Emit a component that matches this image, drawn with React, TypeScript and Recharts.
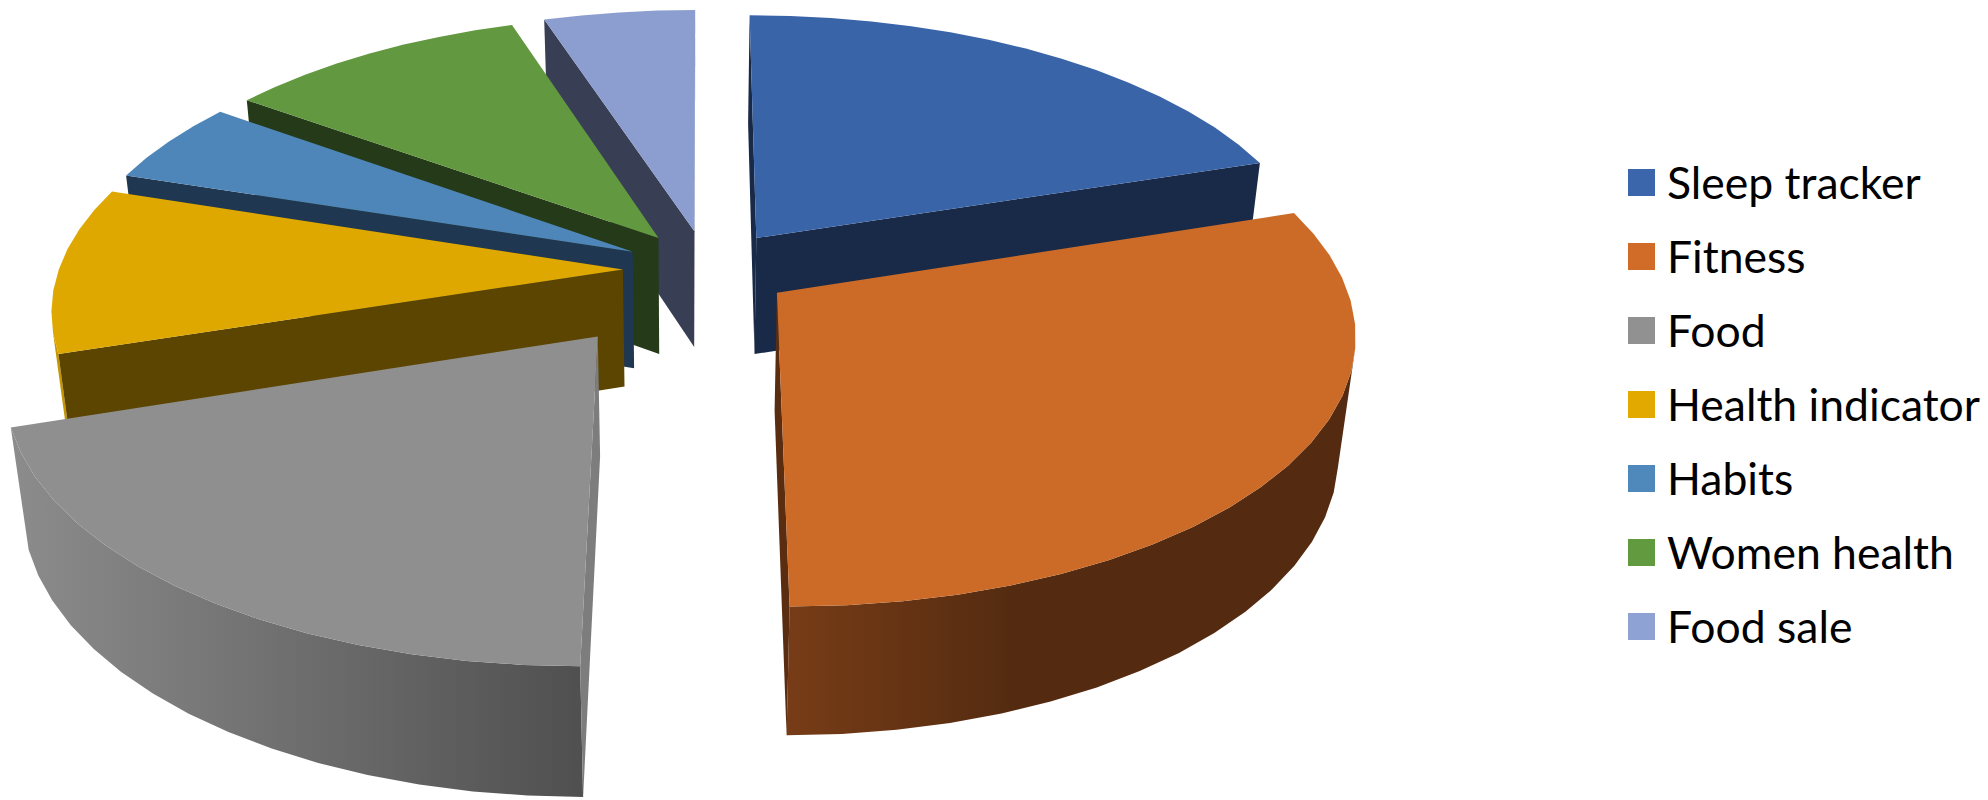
import React from 'react'
import { PieChart, Pie, Legend } from 'recharts'

const CATEGORIES = ['Sleep tracker', 'Fitness', 'Food', 'Health indicator', 'Habits', 'Women health', 'Food sale']
const VALUES = [20, 30, 20, 10, 5, 10, 5]

// back-to-front paint order, so nearer slices overlap the ones behind them
const PAINT_ORDER = ['Food sale', 'Sleep tracker', 'Women health', 'Habits', 'Health indicator', 'Fitness', 'Food']

const TOP_COLORS = ['#3A64A8', '#CC6B27', '#8F8F8F', '#DFA800', '#4E86B9', '#62983F', '#8C9ECF']
const LEGEND_COLORS = ['#3C66AC', '#D06C28', '#919191', '#E2A900', '#4F89BC', '#629A3F', '#8FA2D4']
const WALL_COLORS = ['#182A47', '#5A2D10', '#7D7D7D', '#5C4500', '#1F3750', '#253A18', '#383F55']
const RIM_STOPS = [
  ['#182A47', '#182A47'],
  ['#773C17', '#542B10'],
  ['#8C8C8C', '#505050'],
  ['#C69500', '#C69500'],
  ['#1F3750', '#1F3750'],
  ['#253A18', '#253A18'],
  ['#383F55', '#383F55'],
]

// how far each slice is pulled out of the pie, in radii
const DEFAULT_EXPLODE = { side: 0.15, depth: 0.15 }
const FOOD_EXPLODE = { side: 0.32, depth: 0.305 }

const slices = CATEGORIES.map((name, i) => ({ name, value: VALUES[i], index: i }))

// perspective camera: ground lines running front to back meet at (VANISH_X, VANISH_Y)
const VANISH_X = 701
const VANISH_Y = -1592.5
const DEPTH_NEAR = 5.371e-4
const DEPTH_RANGE = 0.757e-4
const WIDTH_SCALE = 0.303
const WIDTH_SHIFT = 0.0035
// the walls lean toward a second vanishing point far below the pie
const DROP_X = 685
const DROP_DIST = 4615

type Pt = { x: number; y: number }

const project = (nx: number, ny: number): Pt => {
  const u = 1 / (DEPTH_NEAR + DEPTH_RANGE * ny)
  return { x: VANISH_X + (WIDTH_SHIFT + WIDTH_SCALE * nx) * u, y: u + VANISH_Y }
}

const drop = (p: Pt): Pt => {
  const d = 116 + 0.0342 * (p.y - 236)
  return { x: p.x - ((p.x - DROP_X) * d) / DROP_DIST, y: p.y + d }
}

const toPath = (pts: Pt[]) =>
  pts.map((p, i) => `${i ? 'L' : 'M'}${p.x.toFixed(1)} ${p.y.toFixed(1)}`).join(' ') + ' Z'

const signedArea = (pts: Pt[]) =>
  pts.reduce((sum, p, i) => {
    const q = pts[(i + 1) % pts.length]
    return sum + p.x * q.y - q.x * p.y
  }, 0)

const Slice3D = ({ startAngle, endAngle, midAngle, name }: any) => {
  const index = CATEGORIES.indexOf(name)
  const explode = name === 'Food' ? FOOD_EXPLODE : DEFAULT_EXPLODE
  const rad = (a: number) => ((90 - a) * Math.PI) / 180
  const ox = explode.side * Math.sin(rad(midAngle))
  const oy = explode.depth * Math.cos(rad(midAngle))
  const onGround = (a: number, r: number) =>
    project(ox + r * Math.sin(rad(a)), oy + r * Math.cos(rad(a)))

  const steps = Math.max(2, Math.ceil((startAngle - endAngle) / 5))
  const rim = Array.from({ length: steps + 1 }, (_, i) =>
    onGround(startAngle + ((endAngle - startAngle) * i) / steps, 1),
  )
  const rimBottom = rim.map(drop)
  const apex = onGround(startAngle, 0)
  const apexBottom = drop(apex)

  const startWall = [apex, rim[0], rimBottom[0], apexBottom]
  const endWall = [apex, rim[steps], rimBottom[steps], apexBottom]

  // only the facets turned toward the viewer, joined into one band so no seams show
  const frontTop: Pt[] = []
  const frontBottom: Pt[] = []
  rim.slice(1).forEach((p, i) => {
    if (signedArea([rim[i], p, rimBottom[i + 1], rimBottom[i]]) < 0) {
      if (!frontTop.length) {
        frontTop.push(rim[i])
        frontBottom.push(rimBottom[i])
      }
      frontTop.push(p)
      frontBottom.push(rimBottom[i + 1])
    }
  })

  const xs = rim.map(p => p.x)
  const gradientId = `rim-${index}`

  return (
    <g>
      <defs>
        <linearGradient
          id={gradientId} gradientUnits="userSpaceOnUse"
          x1={Math.min(...xs)} x2={Math.max(...xs)} y1={0} y2={0}
        >
          <stop offset="0%" stopColor={RIM_STOPS[index][0]} />
          <stop offset={name === 'Fitness' ? '40%' : '100%'} stopColor={RIM_STOPS[index][1]} />
        </linearGradient>
      </defs>
      {frontTop.length > 0 && (
        <path d={toPath([...frontTop, ...frontBottom.reverse()])} fill={`url(#${gradientId})`} />
      )}
      {signedArea(startWall) < 0 && <path d={toPath(startWall)} fill={WALL_COLORS[index]} />}
      {signedArea(endWall) > 0 && <path d={toPath(endWall)} fill={WALL_COLORS[index]} />}
      <path d={toPath([apex, ...rim])} fill={TOP_COLORS[index]} />
    </g>
  )
}

const LegendList = () => (
  <div style={{ fontFamily: 'Lato, sans-serif', fontSize: 44.5, color: '#000', lineHeight: '74px' }}>
    {CATEGORIES.map((name, i) => (
      <div key={name} style={{ display: 'flex', alignItems: 'center', height: 74, whiteSpace: 'nowrap' }}>
        <span style={{ width: 27, height: 27, background: LEGEND_COLORS[i], marginRight: 12 }} />
        {name}
      </div>
    ))}
  </div>
)

export default function App() {
  return (
    <div style={{ position: 'absolute', left: 0, top: 0, width: 1988, height: 800, overflow: 'hidden', background: '#fff' }}>
      <PieChart width={1988} height={800} margin={{ top: 0, right: 0, bottom: 0, left: 0 }}>
        {PAINT_ORDER.map(layer => (
          <Pie
            key={layer}
            data={slices}
            dataKey="value"
            nameKey="name"
            cx={700}
            cy={400}
            outerRadius={300}
            startAngle={90}
            endAngle={-270}
            paddingAngle={0}
            isAnimationActive={false}
            shape={(props: any) => (props.name === layer ? <Slice3D {...props} /> : <g />)}
          />
        ))}
        <Legend
          content={() => <LegendList />}
          wrapperStyle={{ left: 1628, top: 145, width: 360, bottom: 'auto', right: 'auto' }}
        />
      </PieChart>
    </div>
  )
}
